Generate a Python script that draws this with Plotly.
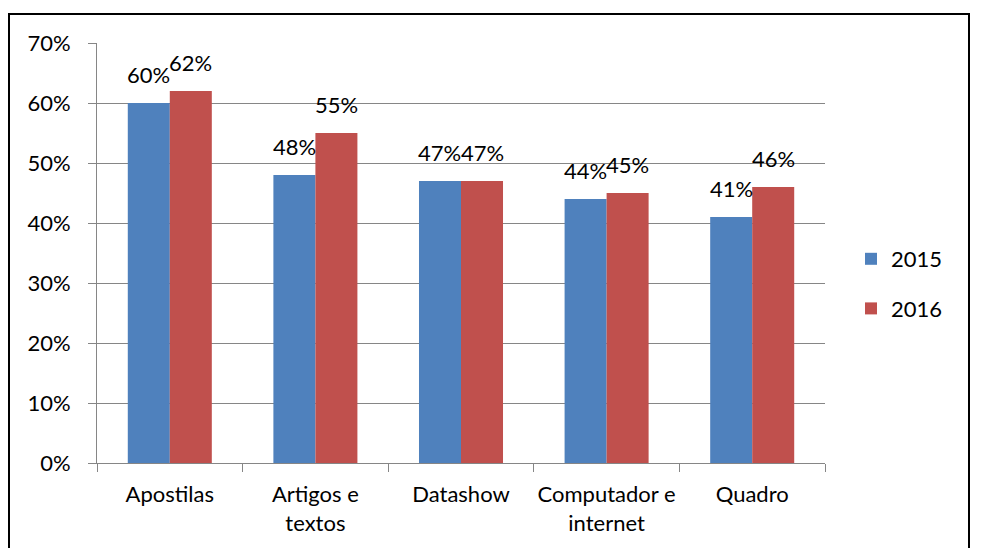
import plotly.graph_objects as go

categories = ["Apostilas", "Artigos e<br>textos", "Datashow", "Computador e<br>internet", "Quadro"]
values_2015 = [0.60, 0.48, 0.47, 0.44, 0.41]
values_2016 = [0.62, 0.55, 0.47, 0.45, 0.46]
series_names = ["2015", "2016"]
colors = ["#4F81BD", "#C0504D"]
y_ticks = [0, 0.1, 0.2, 0.3, 0.4, 0.5, 0.6, 0.7]
y_ticklabels = ["0%", "10%", "20%", "30%", "40%", "50%", "60%", "70%"]

FONT = "Lato"
FS = 22

W, H = 995, 548
L, R, T, B = 97, 170, 43, 85
pw = W - L - R
ph = H - T - B
BARGAP = 0.423
bar_px = pw / len(categories) * (1 - BARGAP) / 2

fig = go.Figure()
for name, vals, col in zip(series_names, [values_2015, values_2016], colors):
    fig.add_trace(go.Bar(
        x=categories, y=vals, name=name, legendgroup=name,
        marker=dict(color=col, line=dict(width=0)),
    ))

for i, vals in enumerate([values_2015, values_2016]):
    shift = (-0.5 if i == 0 else 0.5) * bar_px
    for c, v in zip(categories, vals):
        fig.add_annotation(x=c, y=v, xref="x", yref="y", text=f"{round(v*100)}%",
                           showarrow=False, xanchor="center", yanchor="bottom",
                           xshift=shift, yshift=13,
                           font=dict(family=FONT, size=FS, color="black"))

def px_x(px):
    return (px - L) / pw

def px_y(py):
    return (H - B - py) / ph

fig.add_shape(type="rect", xref="paper", yref="paper",
              x0=px_x(9), x1=px_x(969), y0=px_y(570), y1=px_y(14),
              line=dict(color="black", width=2), fillcolor="rgba(0,0,0,0)", layer="below")

fig.update_layout(
    width=W, height=H,
    margin=dict(l=L, r=R, t=T, b=B, autoexpand=False),
    paper_bgcolor="white", plot_bgcolor="white",
    barmode="group", bargap=BARGAP, bargroupgap=0,
    font=dict(family=FONT, size=FS, color="black"),
    legend=dict(x=px_x(851), y=px_y(284), xanchor="left", yanchor="middle",
                font=dict(family=FONT, size=FS, color="black"),
                tracegroupgap=18, itemwidth=30, bgcolor="rgba(0,0,0,0)"),
    xaxis=dict(type="category", showgrid=False, showline=True, linecolor="#868686", linewidth=1,
               ticks="outside", tickson="boundaries", ticklen=8, tickcolor="#868686",
               ticklabelstandoff=12, tickangle=0, automargin=False,
               tickfont=dict(family=FONT, size=FS, color="black"), fixedrange=True),
    yaxis=dict(range=[0, 0.7], tickvals=y_ticks, ticktext=y_ticklabels,
               showgrid=True, gridcolor="#868686", gridwidth=1,
               showline=True, linecolor="#868686", linewidth=1,
               zeroline=False, automargin=False,
               ticks="outside", ticklen=8, tickcolor="#868686",
               ticklabelstandoff=13,
               tickfont=dict(family=FONT, size=FS, color="black"), fixedrange=True),
)

fig.write_html("out.html")
